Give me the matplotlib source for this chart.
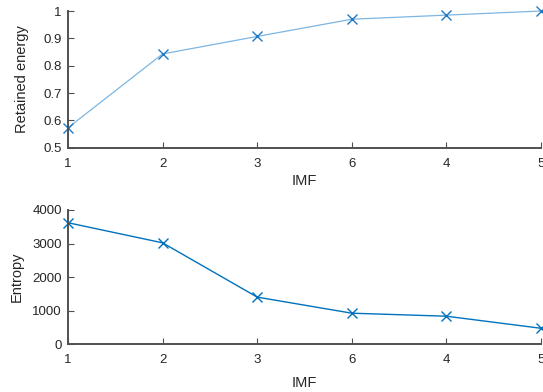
import matplotlib
matplotlib.use("Agg")
import matplotlib.pyplot as plt

imf_labels = ['1', '2', '3', '6', '4', '5']
retained_energy = [0.573, 0.843, 0.907, 0.970, 0.985, 1.0]
entropy = [3620, 3020, 1400, 920, 830, 470]

plt.rcParams['font.family'] = ['Liberation Sans', 'DejaVu Sans']

fig = plt.figure(figsize=(5.43, 3.92), dpi=100)
ax1 = fig.add_axes([0.1252, 0.6232, 0.8711, 0.3487])
ax2 = fig.add_axes([0.1252, 0.1224, 0.8711, 0.3419])

pos = list(range(len(imf_labels)))
axis_col = '#505050'

def style(ax):
    for s in ['top', 'right']:
        ax.spines[s].set_visible(False)
    for s in ['left', 'bottom']:
        ax.spines[s].set_color(axis_col)
        ax.spines[s].set_linewidth(1.4)
    ax.tick_params(direction='in', length=4, width=0.8, colors=axis_col,
                   labelsize=9.5, labelcolor='#262626')
    ax.tick_params(axis='x', pad=7.5)
    ax.tick_params(axis='y', pad=4.5)
    ax.set_xticks(pos)
    ax.set_xticklabels(imf_labels)
    ax.set_xlim(0, len(imf_labels) - 1)
    ax.set_xlabel('IMF', fontsize=10.5, color='#262626')

ax1.plot(pos, retained_energy, color='#7db6e2', lw=0.9, marker='x',
         markersize=7, markeredgecolor='#1f7bc4', markeredgewidth=1.0,
         clip_on=False)
ax1.set_ylim(0.5, 1.0)
ax1.set_yticks([0.5, 0.6, 0.7, 0.8, 0.9, 1.0])
ax1.set_yticklabels(['0.5', '0.6', '0.7', '0.8', '0.9', '1'])
ax1.set_ylabel('Retained energy', fontsize=10.5, color='#262626')
style(ax1)
ax1.yaxis.set_label_coords(-0.0825, 0.5)
ax1.xaxis.set_label_coords(0.5, -0.19)

ax2.plot(pos, entropy, color='#0072BD', lw=1.0, marker='x',
         markersize=7, markeredgecolor='#0072BD', markeredgewidth=1.0,
         clip_on=False)
ax2.set_ylim(0, 4000)
ax2.set_yticks([0, 1000, 2000, 3000, 4000])
ax2.set_ylabel('Entropy', fontsize=10.5, color='#262626')
style(ax2)
ax2.yaxis.set_label_coords(-0.093, 0.5)
ax2.xaxis.set_label_coords(0.5, -0.235)

fig.savefig('out.png', dpi=100)
